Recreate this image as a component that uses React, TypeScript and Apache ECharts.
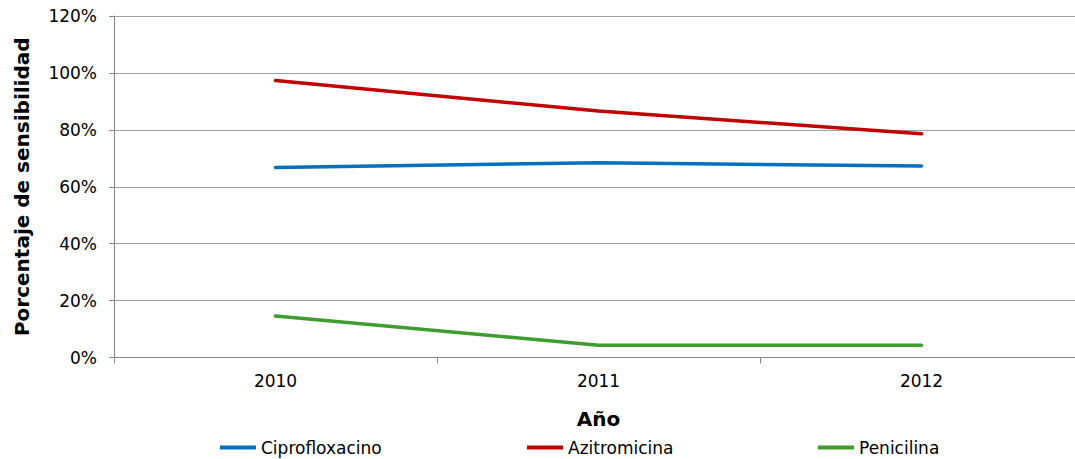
import React, { useEffect, useRef } from "react";
import * as echarts from "echarts";

const years = ["2010", "2011", "2012"];
const ciprofloxacino = [66.8, 68.4, 67.3];
const azitromicina = [97.3, 86.6, 78.6];
const penicilina = [14.6, 4.3, 4.3];
const seriesNames = ["Ciprofloxacino", "Azitromicina", "Penicilina"];
const seriesColors = ["#0070C0", "#C00000", "#3E9D2E"];
const legendLefts = [215, 522, 813];

export default function App() {
  const ref = useRef<HTMLDivElement>(null);
  useEffect(() => {
    document.body.style.margin = "0";
    const chart = echarts.init(ref.current!, null, { renderer: "svg" });
    const font = "DejaVu Sans, Verdana, sans-serif";
    const data = [ciprofloxacino, azitromicina, penicilina];
    chart.setOption({
      animation: false,
      grid: { left: 114, top: 16, width: 969, height: 341.5 },
      legend: seriesNames.map((n, i) => ({
        data: [n],
        left: legendLefts[i],
        top: 434,
        itemWidth: 36,
        itemHeight: 4,
        itemGap: 0,
        icon: "rect",
        textStyle: { fontFamily: font, fontSize: 17, color: "#000" },
      })),
      xAxis: {
        type: "category",
        data: years,
        boundaryGap: true,
        name: "Año",
        nameLocation: "middle",
        nameGap: 51,
        nameTextStyle: { fontFamily: font, fontSize: 20, fontWeight: "bold", color: "#000" },
        axisLine: { lineStyle: { color: "#868686", width: 1 } },
        axisTick: { show: true, length: 6, lineStyle: { color: "#868686" } },
        axisLabel: { fontFamily: font, fontSize: 17, color: "#000", margin: 15 },
        splitLine: { show: false },
      },
      yAxis: {
        type: "value",
        min: 0,
        max: 120,
        interval: 20,
        name: "Porcentaje de sensibilidad",
        nameLocation: "middle",
        nameRotate: 90,
        nameGap: 82,
        nameTextStyle: { fontFamily: font, fontSize: 20, fontWeight: "bold", color: "#000" },
        axisLine: { show: true, lineStyle: { color: "#868686", width: 1 } },
        axisTick: { show: true, length: 5, lineStyle: { color: "#868686" } },
        axisLabel: { fontFamily: font, fontSize: 17, color: "#000", margin: 17, formatter: (v: number) => v + "%" },
        splitLine: { show: true, lineStyle: { color: "#a0a0a0", width: 1 } },
      },
      series: seriesNames.map((n, i) => ({
        name: n,
        type: "line",
        data: data[i],
        symbol: "none",
        color: seriesColors[i],
        lineStyle: { width: 3.5, color: seriesColors[i], cap: "round" },
      })),
    });
    return () => chart.dispose();
  }, []);
  return (
    <div style={{ width: 1075, height: 459, overflow: "hidden" }}>
      <div ref={ref} style={{ width: 1095, height: 459 }} />
    </div>
  );
}
